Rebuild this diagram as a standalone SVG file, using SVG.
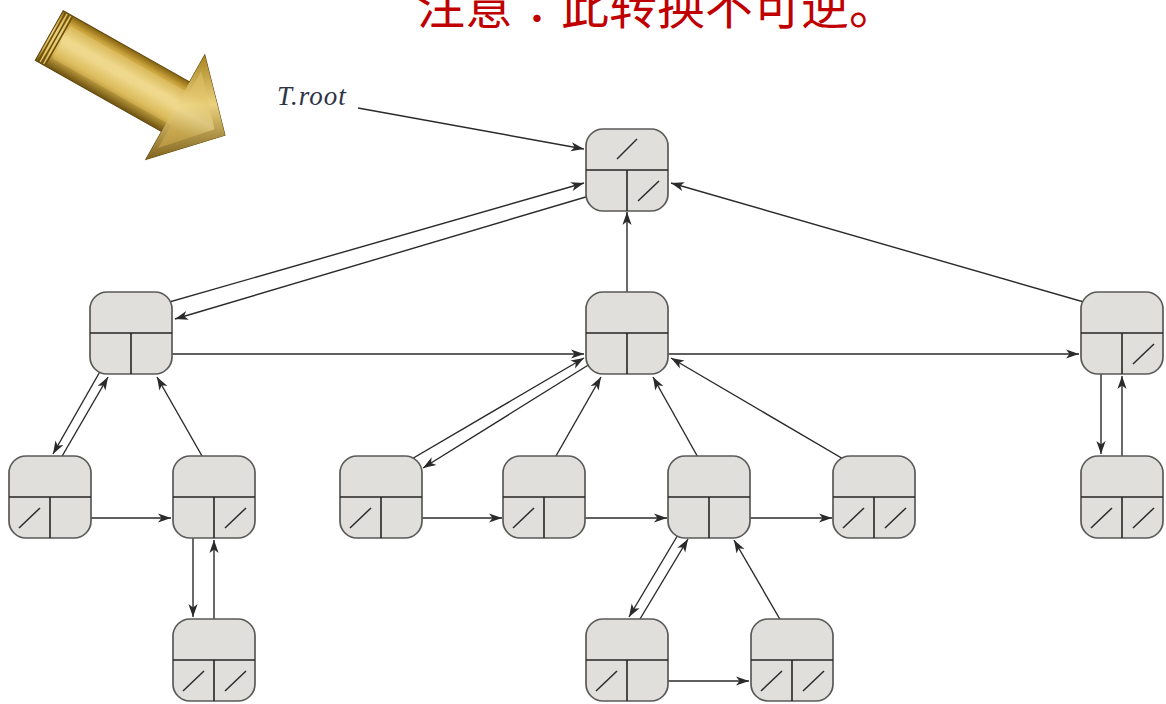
<svg xmlns="http://www.w3.org/2000/svg" xmlns:xlink="http://www.w3.org/1999/xlink" width="1166" height="704" viewBox="0 0 1166 704">
  <style>
    .box { fill: #e0dfdb; stroke: #5a5a5a; stroke-width: 1.7; }
    .div { stroke: #262626; stroke-width: 1.6; fill: none; }
    .nil { stroke: #2a2a2a; stroke-width: 1.5; fill: none; }
    .edge { stroke: #2a2a2a; stroke-width: 1.4; fill: none; marker-end: url(#head); }
    .title { font-family: "Noto Sans CJK SC", "Noto Sans", sans-serif; font-size: 48px; fill: #c00000; }
    .lbl { font-family: "Liberation Serif", serif; font-style: italic; font-size: 27px; letter-spacing: 1px; fill: #2e3447; }
  </style>
  <defs>
    <marker id="head" markerUnits="userSpaceOnUse" markerWidth="16" markerHeight="12" viewBox="-14 -6 16 12" refX="0" refY="0" orient="auto">
      <path d="M0,0 L-13,-4.6 L-9.5,0 L-13,4.6 Z" fill="#2a2a2a"/>
    </marker>
    <!-- node: parent field on top, left-child / right-sibling fields below -->
    <g id="box">
      <rect class="box" x="0" y="0" width="82" height="82" rx="17" ry="17"/>
      <path class="div" d="M0,41 H82 M41,41 V82"/>
    </g>
    <path id="nilTop" class="nil" d="M31,30 L51,10"/>
    <path id="nilLeft" class="nil" d="M10,72 L31,52"/>
    <path id="nilRight" class="nil" d="M52,72 L73,52"/>
    <linearGradient id="goldBody" x1="0" y1="-30" x2="0" y2="30" gradientUnits="userSpaceOnUse">
      <stop offset="0" stop-color="#7c5a0c"/>
      <stop offset="0.15" stop-color="#c9a23a"/>
      <stop offset="0.4" stop-color="#f0d88a"/>
      <stop offset="0.72" stop-color="#d8b54e"/>
      <stop offset="1" stop-color="#5e4408"/>
    </linearGradient>
    <linearGradient id="goldHead" x1="140" y1="-60" x2="200" y2="40" gradientUnits="userSpaceOnUse">
      <stop offset="0" stop-color="#a5801e"/>
      <stop offset="0.45" stop-color="#ecd27e"/>
      <stop offset="1" stop-color="#6a4d0a"/>
    </linearGradient>
    <linearGradient id="goldFace" x1="0" y1="-20" x2="0" y2="20" gradientUnits="userSpaceOnUse">
      <stop offset="0" stop-color="#e2c56a"/>
      <stop offset="0.5" stop-color="#f4e2a0"/>
      <stop offset="1" stop-color="#d5b350"/>
    </linearGradient>
  </defs>

  <!-- heading -->
  <text class="title" x="417" y="24">注意<tspan font-family="'Noto Sans CJK JP', sans-serif">：</tspan>此转换不可逆。</text>

  <!-- gold pointer arrow -->
  <g id="goldArrow" transform="translate(49,36) rotate(29.4)">
    <path d="M0,-29 L145,-29 L145,-60 L202,0 L145,60 L145,28 L0,28 Z" fill="url(#goldBody)" stroke="#5e4408" stroke-width="1"/>
    <path d="M145,-60 L202,0 L145,60 L145,28 L145,-29 Z" fill="url(#goldHead)"/>
    <path d="M14,-19 L150,-19 L150,-44 L190,0 L150,44 L150,18 L14,18 Z" fill="url(#goldFace)" opacity="0.5"/>
    <path d="M3,-28 V27 M7,-28 V27 M11,-28 V27" stroke="#6e500c" stroke-width="1.6" fill="none"/>
    <path d="M5,-28 V27 M9,-28 V27" stroke="#e8cf78" stroke-width="1" fill="none"/>
  </g>

  <text class="lbl" x="277" y="105">T.root</text>

  <!-- pointers -->
  <g id="connectors">
    <path class="edge" d="M358,108 L584,149"/>
    <path class="edge" d="M606,191 L175,319"/>
    <path class="edge" d="M131,313 L584,183"/>
    <path class="edge" d="M152,354 L584,354"/>
    <path class="edge" d="M627,313 L627,212"/>
    <path class="edge" d="M648,354 L1079,354"/>
    <path class="edge" d="M1122,313 L671,183"/>
    <path class="edge" d="M1101,354 L1101,454"/>
    <path class="edge" d="M1122,477 L1122,376"/>
    <path class="edge" d="M110,354 L53,454"/>
    <path class="edge" d="M50,477 L108,377"/>
    <path class="edge" d="M214,477 L157,377"/>
    <path class="edge" d="M71,518 L171,518"/>
    <path class="edge" d="M193,518 L193,617"/>
    <path class="edge" d="M214,640 L214,540"/>
    <path class="edge" d="M606,354 L423,468"/>
    <path class="edge" d="M381,477 L584,358"/>
    <path class="edge" d="M402,518 L502,518"/>
    <path class="edge" d="M544,477 L601,377"/>
    <path class="edge" d="M565,518 L667,518"/>
    <path class="edge" d="M709,477 L653,377"/>
    <path class="edge" d="M730,518 L832,518"/>
    <path class="edge" d="M874,477 L671,358"/>
    <path class="edge" d="M688,518 L629,617"/>
    <path class="edge" d="M628,639 L688,539"/>
    <path class="edge" d="M648,681 L749,681"/>
    <path class="edge" d="M792,640 L734,540"/>
  </g>

  <!-- nodes -->
  <g id="n-root" transform="translate(586,129)"><use xlink:href="#box"/><use xlink:href="#nilTop"/><use xlink:href="#nilRight"/></g>
  <g id="n-a" transform="translate(90,292)"><use xlink:href="#box"/></g>
  <g id="n-b" transform="translate(586,292)"><use xlink:href="#box"/></g>
  <g id="n-c" transform="translate(1081,292)"><use xlink:href="#box"/><use xlink:href="#nilRight"/></g>
  <g id="n-d" transform="translate(9,456)"><use xlink:href="#box"/><use xlink:href="#nilLeft"/></g>
  <g id="n-e" transform="translate(173,456)"><use xlink:href="#box"/><use xlink:href="#nilRight"/></g>
  <g id="n-f" transform="translate(340,456)"><use xlink:href="#box"/><use xlink:href="#nilLeft"/></g>
  <g id="n-g" transform="translate(503,456)"><use xlink:href="#box"/><use xlink:href="#nilLeft"/></g>
  <g id="n-h" transform="translate(668,456)"><use xlink:href="#box"/></g>
  <g id="n-i" transform="translate(833,456)"><use xlink:href="#box"/><use xlink:href="#nilLeft"/><use xlink:href="#nilRight"/></g>
  <g id="n-j" transform="translate(1081,456)"><use xlink:href="#box"/><use xlink:href="#nilLeft"/><use xlink:href="#nilRight"/></g>
  <g id="n-k" transform="translate(173,619)"><use xlink:href="#box"/><use xlink:href="#nilLeft"/><use xlink:href="#nilRight"/></g>
  <g id="n-l" transform="translate(586,619)"><use xlink:href="#box"/><use xlink:href="#nilLeft"/></g>
  <g id="n-m" transform="translate(751,619)"><use xlink:href="#box"/><use xlink:href="#nilLeft"/><use xlink:href="#nilRight"/></g>
</svg>
